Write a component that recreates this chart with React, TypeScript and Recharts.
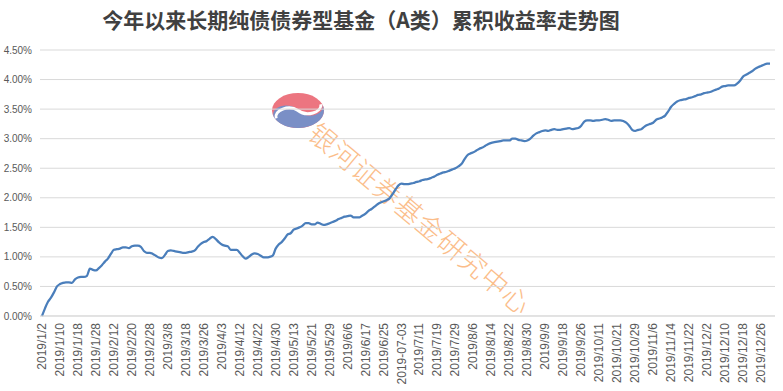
import { CartesianGrid, Line, LineChart, XAxis, YAxis } from "recharts";

if (typeof document !== "undefined") {
  document.body.style.margin = "0";
}

// trading days of 2019, per month
const tradingDays: [number, number[]][] = [
  [1, [2, 3, 4, 7, 8, 9, 10, 11, 14, 15, 16, 17, 18, 21, 22, 23, 24, 25, 28, 29, 30, 31]],
  [2, [1, 11, 12, 13, 14, 15, 18, 19, 20, 21, 22, 25, 26, 27, 28]],
  [3, [1, 4, 5, 6, 7, 8, 11, 12, 13, 14, 15, 18, 19, 20, 21, 22, 25, 26, 27, 28, 29]],
  [4, [1, 2, 3, 4, 8, 9, 10, 11, 12, 15, 16, 17, 18, 19, 22, 23, 24, 25, 26, 29, 30]],
  [5, [6, 7, 8, 9, 10, 13, 14, 15, 16, 17, 20, 21, 22, 23, 24, 27, 28, 29, 30, 31]],
  [6, [3, 4, 5, 6, 10, 11, 12, 13, 14, 17, 18, 19, 20, 21, 24, 25, 26, 27, 28]],
  [7, [1, 2, 3, 4, 5, 8, 9, 10, 11, 12, 15, 16, 17, 18, 19, 22, 23, 24, 25, 26, 29, 30, 31]],
  [8, [1, 2, 5, 6, 7, 8, 9, 12, 13, 14, 15, 16, 19, 20, 21, 22, 23, 26, 27, 28, 29, 30]],
  [9, [2, 3, 4, 5, 6, 9, 10, 11, 12, 16, 17, 18, 19, 20, 23, 24, 25, 26, 27, 30]],
  [10, [8, 9, 10, 11, 14, 15, 16, 17, 18, 21, 22, 23, 24, 25, 28, 29, 30, 31]],
  [11, [1, 4, 5, 6, 7, 8, 11, 12, 13, 14, 15, 18, 19, 20, 21, 22, 25, 26, 27, 28, 29]],
  [12, [2, 3, 4, 5, 6, 9, 10, 11, 12, 13, 16, 17, 18, 19, 20, 23, 24, 25, 26, 27, 30, 31]],
];

// one label in the source is written in another format
const altLabels: Record<string, string> = { "2019/7/3": "2019-07-03" };

// cumulative return, %
const cumReturn = [
  0.0, 0.13, 0.24, 0.31, 0.4, 0.5, 0.54, 0.56, 0.57, 0.57,
  0.56, 0.62, 0.65, 0.66, 0.66, 0.68, 0.8, 0.78, 0.77, 0.81,
  0.86, 0.92, 0.97, 1.05, 1.12, 1.13, 1.14, 1.16, 1.16, 1.15,
  1.18, 1.19, 1.19, 1.17, 1.1, 1.07, 1.07, 1.05, 1.02, 0.99,
  0.98, 1.03, 1.1, 1.11, 1.1, 1.09, 1.08, 1.07, 1.07, 1.08,
  1.09, 1.11, 1.17, 1.22, 1.25, 1.27, 1.31, 1.34, 1.3, 1.25,
  1.21, 1.19, 1.18, 1.12, 1.12, 1.12, 1.07, 1.01, 0.97, 1.0,
  1.04, 1.06, 1.05, 1.02, 0.99, 0.99, 1.0, 1.02, 1.14, 1.21,
  1.25, 1.31, 1.38, 1.4, 1.46, 1.48, 1.5, 1.53, 1.57, 1.57,
  1.55, 1.55, 1.58, 1.56, 1.54, 1.55, 1.57, 1.59, 1.61, 1.64,
  1.66, 1.68, 1.69, 1.7, 1.67, 1.67, 1.67, 1.7, 1.73, 1.78,
  1.81, 1.85, 1.89, 1.92, 1.94, 1.96, 1.99, 2.06, 2.14, 2.21,
  2.24, 2.23, 2.23, 2.24, 2.25, 2.27, 2.28, 2.3, 2.31, 2.32,
  2.34, 2.36, 2.39, 2.41, 2.43, 2.44, 2.46, 2.48, 2.5, 2.53,
  2.57, 2.65, 2.72, 2.75, 2.77, 2.8, 2.83, 2.85, 2.88, 2.91,
  2.93, 2.94, 2.95, 2.96, 2.97, 2.97, 2.97, 3.0, 3.0, 2.98,
  2.97, 2.96, 2.97, 3.0, 3.05, 3.09, 3.11, 3.13, 3.14, 3.13,
  3.15, 3.16, 3.15, 3.15, 3.16, 3.17, 3.18, 3.16, 3.17, 3.18,
  3.22, 3.29, 3.31, 3.31, 3.3, 3.31, 3.31, 3.32, 3.33, 3.32,
  3.3, 3.31, 3.31, 3.31, 3.3, 3.27, 3.22, 3.15, 3.13, 3.15,
  3.16, 3.2, 3.23, 3.25, 3.27, 3.32, 3.34, 3.36, 3.39, 3.46,
  3.54, 3.59, 3.63, 3.65, 3.66, 3.67, 3.69, 3.7, 3.72, 3.74,
  3.75, 3.77, 3.78, 3.79, 3.81, 3.83, 3.85, 3.88, 3.89, 3.9,
  3.9, 3.9, 3.93, 3.98, 4.05, 4.08, 4.11, 4.14, 4.18, 4.21,
  4.23, 4.25, 4.27, 4.27,
];

const yTicks = [0, 0.5, 1, 1.5, 2, 2.5, 3, 3.5, 4, 4.5];

const dates = tradingDays.flatMap(([m, days]) => days.map((d) => `2019/${m}/${d}`));
const data = dates.map((date, i) => ({ date: altLabels[date] ?? date, value: cumReturn[i] }));

const axisFont = "'Liberation Sans', Arial, sans-serif";

const DateTick = ({ x, y, payload }: any) => (
  <text
    x={x}
    y={y}
    transform={`rotate(-90 ${x} ${y})`}
    textAnchor="end"
    dy={4}
    fontSize={12}
    fontFamily={axisFont}
    fill="#595959"
  >
    {payload.value}
  </text>
);

const Watermark = () => (
  <svg width={783} height={391} style={{ position: "absolute", left: 0, top: 0 }}>
    <g transform="translate(298 110.5) scale(26 17.5)">
      <ellipse cx={0} cy={0} rx={1} ry={1} fill="#ec7580" />
      <g transform="rotate(-25)">
        <path d="M -1 0 A 0.5 0.5 0 0 1 0 0 A 0.5 0.5 0 0 0 1 0 A 1 1 0 0 1 -1 0 Z" fill="#7a8fc6" />
        <path
          d="M -0.95 0.05 A 0.5 0.5 0 0 1 0 0 A 0.5 0.5 0 0 0 0.95 0.05"
          fill="none"
          stroke="#fff"
          strokeWidth={3}
          vectorEffect="non-scaling-stroke"
        />
      </g>
    </g>
    <text
      x={421}
      y={218}
      transform="rotate(40 421 218)"
      textAnchor="middle"
      dominantBaseline="central"
      fontSize={27}
      letterSpacing={1}
      fontFamily="'Noto Sans CJK SC', sans-serif"
      fontWeight={300}
      fill="#fbbd8a"
    >
      银河证券基金研究中心
    </text>
  </svg>
);

export default function App() {
  return (
    <div style={{ position: "relative", width: 783, height: 391, background: "#fff", overflow: "hidden" }}>
      <Watermark />
      <div
        style={{
          position: "absolute",
          top: 7,
          left: 0,
          width: 722,
          textAlign: "center",
          fontFamily: "'Noto Sans CJK SC', sans-serif",
          fontWeight: 700,
          fontSize: 21,
          color: "#404040",
          lineHeight: "24px",
        }}
      >
        今年以来长期纯债债券型基金（A类）累积收益率走势图
      </div>
      <div style={{ position: "absolute", left: 0, top: 0 }}>
        <LineChart width={783} height={391} data={data} margin={{ top: 50, right: 8, bottom: 5, left: 0 }}>
          <CartesianGrid vertical={false} stroke="#d9d9d9" />
          <XAxis
            dataKey="date"
            interval={5}
            height={70}
            tickLine={false}
            tickSize={6}
            tickMargin={1}
            axisLine={{ stroke: "#d9d9d9" }}
            padding={{ left: 2, right: 5 }}
            tick={<DateTick />}
          />
          <YAxis
            width={40}
            domain={[0, 4.5]}
            ticks={yTicks}
            axisLine={false}
            tickLine={false}
            tickFormatter={(v: number) => `${v.toFixed(2)}%`}
            tick={{ fontSize: 10, fill: "#595959", fontFamily: axisFont }}
          />
          <Line
            type="monotone"
            dataKey="value"
            stroke="#4a7ebb"
            strokeWidth={2.25}
            dot={false}
            isAnimationActive={false}
          />
        </LineChart>
      </div>
    </div>
  );
}
